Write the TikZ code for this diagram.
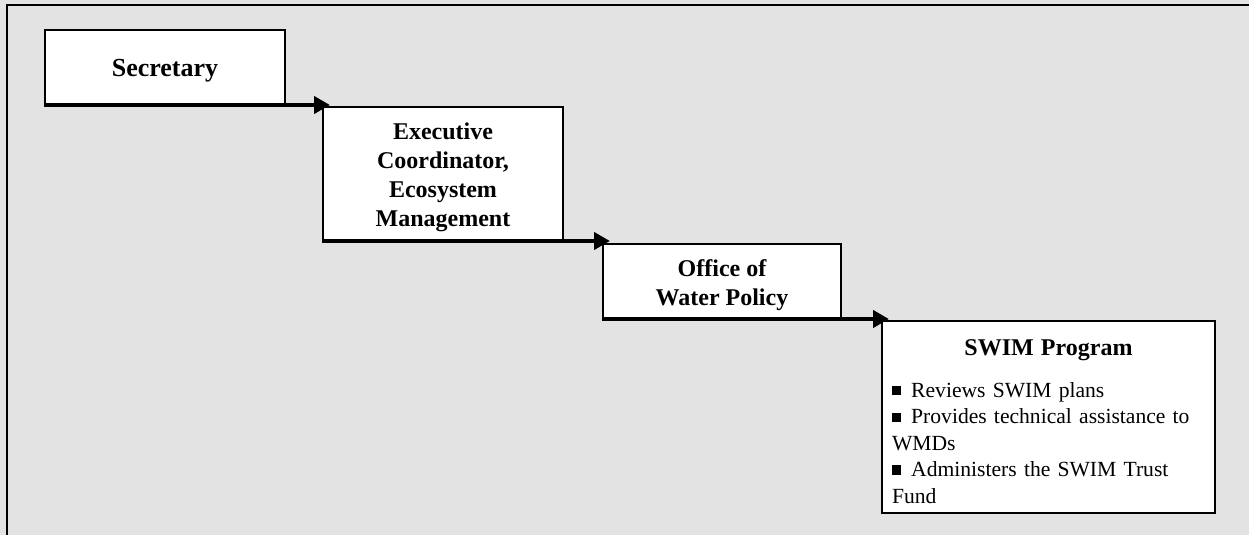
\documentclass[tikz,border=0pt]{standalone}
\usepackage{fontspec}
\setmainfont{Liberation Serif}
\usetikzlibrary{positioning,arrows.meta}
\definecolor{panelgray}{RGB}{227,227,227}
\newcommand{\sqbullet}{\rule[1pt]{4.6pt}{4.6pt}\hspace{5pt}}
\newcommand{\hstrut}{\rule{0pt}{12.5pt}}

\begin{document}
\begin{tikzpicture}[>={Triangle[length=8pt,width=8.5pt]},
box/.style={draw,line width=1pt,fill=white,align=center,minimum width=120pt,font=\bfseries\fontsize{12}{14.5}\selectfont},
link/.style={->,line width=2pt,shorten >=-4pt}]
% grey panel with its frame on the left and top
\fill[panelgray] (0,0) rectangle (624.5pt,-267.5pt);
\useasboundingbox (0,0) rectangle (624.5pt,-267.5pt);
\draw[line width=1pt] (3.5pt,-267.5pt) -- (3.5pt,-2.5pt) -- (624.5pt,-2.5pt);
\node[box,anchor=north west,minimum height=37pt,font=\bfseries\fontsize{13}{15}\selectfont] (sec) at (22pt,-14.5pt) {\hstrut Secretary};
\node[box,below right=0.5pt and 18pt of sec,minimum height=66.5pt] (eco) {\hstrut Executive\\Coordinator,\\Ecosystem\\Management};
\node[box,below right=1pt and 19pt of eco,minimum width=119pt,minimum height=37pt] (owp) {\hstrut Office of\\Water Policy};
\node[box,below right=0.5pt and 19.5pt of owp,minimum width=166.5pt,minimum height=96pt,align=left,text width=156.5pt,inner sep=5pt,font=\fontsize{10.8}{13.2}\selectfont] (swim)
  {{\centering\bfseries\fontsize{12}{14.5}\selectfont\rule{0pt}{12pt}SWIM Program\par}\vspace{8pt}
   \raggedright
   \sqbullet Reviews SWIM plans\\
   \sqbullet Provides technical assistance to\\
   WMDs\\
   \sqbullet Administers the SWIM Trust\\
   Fund};
\draw[link] (sec.south west) -- (sec.south -| eco.west); \draw[link] (eco.south west) -- (eco.south -| owp.west); \draw[link] (owp.south west) -- (owp.south -| swim.west);
\end{tikzpicture}
\end{document}
